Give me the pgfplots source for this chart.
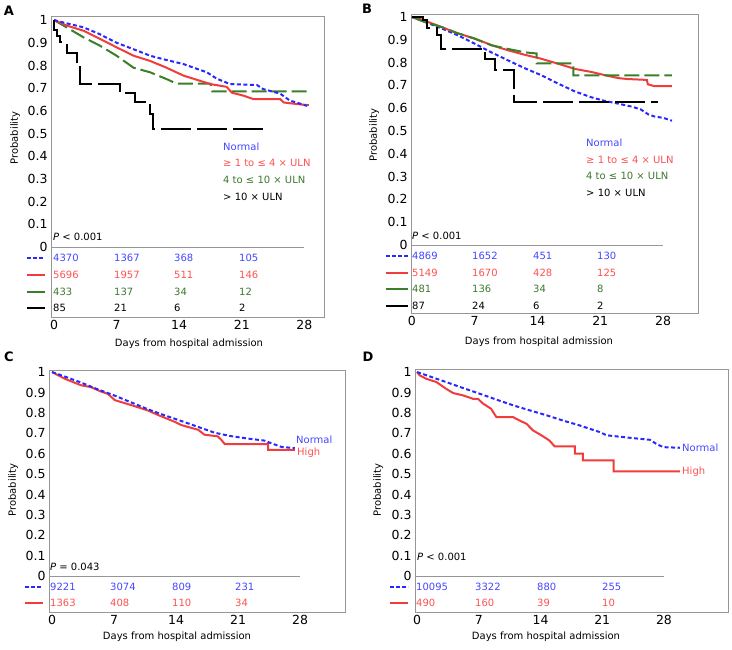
\documentclass[border=0pt]{standalone}
\usepackage{fontspec}
\setmainfont{DejaVu Sans}
\usepackage{pgfplots}
\pgfplotsset{compat=1.18}

\definecolor{kmblue}{RGB}{40,40,255}
\definecolor{kmred}{RGB}{240,60,60}
\definecolor{kmgreen}{RGB}{58,128,40}
\definecolor{tblue}{RGB}{70,70,255}
\definecolor{tred}{RGB}{255,80,80}
\definecolor{tgreen}{RGB}{60,120,45}
\definecolor{boxgray}{RGB}{150,150,150}

\newcommand{\tk}{\fontsize{12.5}{14}\selectfont}
\newcommand{\tx}{\fontsize{10}{12}\selectfont}

\tikzset{
  sblue/.style={kmblue, line width=2pt, dash pattern=on 4pt off 2.5pt},
  sred/.style={kmred, line width=2pt},
  sgreen/.style={kmgreen, line width=2pt, dash pattern=on 15pt off 5pt},
  sblack/.style={black, line width=2pt, dash pattern=on 30pt off 6pt},
}
\pgfplotsset{
  kmpanel/.style={
    scale only axis,
    anchor=north west,
    clip=false,
    axis line style={boxgray, line width=0.8pt},
    xtick={0,7,14,21,28},
    ytick={0,0.1,0.2,0.3,0.4,0.5,0.6,0.7,0.8,0.9,1},
    yticklabels={0,0.1,0.2,0.3,0.4,0.5,0.6,0.7,0.8,0.9,1},
    major tick length=0pt,
    tick label style={font=\tk},
    /pgf/number format/assume math mode=true,
  },
}

\begin{document}
\begin{tikzpicture}
\path[use as bounding box] (0,0) rectangle (732pt,-649pt);

% ---------- A ----------
\begin{axis}[kmpanel, at={(51pt,-16pt)}, width=273pt, height=301pt,
  xmin=-0.34, xmax=30.2, ymin=-0.308, ymax=1.018]
\draw[boxgray, line width=0.8pt] (axis cs:-0.34,0) -- (axis cs:28,0);
\addplot[sgreen] coordinates {(0,1) (1.4,0.968) (3.3,0.924) (5.15,0.887) (7,0.843) (8.9,0.79) (10.75,0.77) (12.6,0.74) (13.7,0.72) (17.5,0.72) (17.7,0.686) (28.5,0.686)};
\addplot[sred] coordinates {(0,1) (1.5,0.975) (3.3,0.953) (5,0.92) (7,0.88) (8.9,0.843) (10.75,0.82) (12.6,0.79) (14.5,0.755) (16.3,0.733) (17.5,0.718) (19.3,0.706) (19.9,0.68) (21.2,0.667) (22.3,0.652) (25.3,0.652) (25.7,0.637) (27.2,0.63) (28.5,0.625)};
\addplot[sblue] coordinates {(0,1) (1.5,0.985) (3.3,0.968) (5,0.94) (7,0.90) (9,0.87) (10.75,0.843) (12.5,0.825) (14.5,0.806) (16,0.785) (17.1,0.77) (18.2,0.742) (19.7,0.718) (22.7,0.714) (23.4,0.696) (25.3,0.676) (26.4,0.645) (27.2,0.636) (28.3,0.622)};
\addplot[sblack] coordinates {(0,1) (0,0.956) (0.3,0.956) (0.3,0.93) (0.67,0.93) (0.67,0.904) (1.4,0.904) (1.4,0.856) (2.6,0.856) (2.6,0.816) (2.9,0.816) (2.9,0.72) (7.4,0.72) (7.4,0.68) (9.1,0.68) (9.1,0.637) (10.75,0.637) (10.75,0.586) (11.1,0.586) (11.1,0.52) (24,0.52)};
\end{axis}

% ---------- B ----------
\begin{axis}[kmpanel, at={(411pt,-14pt)}, width=287pt, height=299pt,
  xmin=-0.1, xmax=31.9, ymin=-0.298, ymax=1.013]
\draw[boxgray, line width=0.8pt] (axis cs:-0.1,0) -- (axis cs:28,0);
\addplot[sblue] coordinates {(0,1) (1,0.985) (2,0.97) (3.3,0.95) (5.1,0.92) (7,0.883) (8.85,0.845) (10.7,0.81) (12.6,0.775) (14.4,0.745) (16.3,0.708) (18.2,0.673) (20,0.648) (21.5,0.632) (23,0.62) (24.5,0.607) (25.5,0.595) (26.4,0.572) (27.1,0.563) (28,0.558) (29,0.545)};
\addplot[sred] coordinates {(0,1) (1,0.99) (3.3,0.956) (5,0.93) (7,0.905) (9,0.875) (10.7,0.854) (12.5,0.835) (14.4,0.817) (16.3,0.795) (18.2,0.772) (20,0.759) (21.5,0.745) (23,0.732) (24,0.728) (26.2,0.724) (26.3,0.705) (27,0.697) (29,0.697)};
\addplot[sgreen] coordinates {(0,1) (1.4,0.978) (3.3,0.956) (5,0.93) (7,0.905) (8.85,0.876) (10.7,0.86) (12.6,0.845) (13.9,0.84) (13.9,0.797) (18,0.797) (18,0.744) (29,0.744)};
\addplot[sblack] coordinates {(0,1) (1.2,1) (1.2,0.985) (1.7,0.985) (1.7,0.95) (2.75,0.95) (2.75,0.92) (3.3,0.92) (3.3,0.858) (8.15,0.858) (8.15,0.814) (9.3,0.814) (9.3,0.768) (11.4,0.768) (11.4,0.629) (27.4,0.629)};
\end{axis}

% ---------- C ----------
\begin{axis}[kmpanel, at={(49pt,-370pt)}, width=296pt, height=242pt,
  xmin=-0.34, xmax=33.07, ymin=-0.176, ymax=1.01]
\draw[boxgray, line width=0.8pt] (axis cs:-0.34,0) -- (axis cs:28,0);
\addplot[sred] coordinates {(0,1) (1.5,0.966) (3.3,0.935) (4.4,0.926) (5.5,0.905) (6.3,0.893) (7.1,0.862) (8.95,0.838) (10.8,0.812) (12,0.789) (13.85,0.756) (14.6,0.74) (16.5,0.717) (17.2,0.693) (18.7,0.685) (19.1,0.668) (19.5,0.647) (24.4,0.647) (24.4,0.619) (27.4,0.619)};
\addplot[sblue] coordinates {(0,1) (1.5,0.977) (3.3,0.948) (5,0.918) (7.1,0.884) (9,0.85) (10.8,0.818) (12.7,0.788) (14.6,0.76) (16.5,0.731) (18.4,0.702) (20.2,0.686) (22.1,0.674) (24,0.664) (24.5,0.655) (25.9,0.633) (27.4,0.627)};
\end{axis}

% ---------- D ----------
\begin{axis}[kmpanel, at={(415pt,-369pt)}, width=313pt, height=243pt,
  xmin=-0.23, xmax=35.26, ymin=-0.176, ymax=1.015]
\draw[boxgray, line width=0.8pt] (axis cs:-0.23,0) -- (axis cs:28,0);
\addplot[sred] coordinates {(0,1) (0.3,0.984) (1.05,0.967) (2.2,0.951) (3.3,0.918) (4.1,0.897) (5.2,0.886) (6.35,0.869) (6.9,0.869) (7.5,0.845) (8.4,0.82) (9,0.779) (10.9,0.779) (11.6,0.763) (12.4,0.747) (13.15,0.714) (14.1,0.69) (15,0.665) (15.6,0.636) (17.9,0.636) (17.9,0.6) (18.8,0.6) (18.8,0.567) (22.3,0.567) (22.3,0.513) (29.8,0.513)};
\addplot[sblue] coordinates {(0,1) (1.5,0.978) (3.3,0.951) (5,0.925) (7.1,0.894) (9,0.865) (10.9,0.837) (12.8,0.812) (14.7,0.788) (16.5,0.763) (18.4,0.739) (20.7,0.706) (21.5,0.69) (24.1,0.678) (26.4,0.668) (27.1,0.649) (27.9,0.632) (29.8,0.629)};
\end{axis}

% ---------- annotations (pixel coordinates) ----------
\begin{scope}[x=1pt, y=-1pt, every node/.style={font=\tx, inner sep=0pt}]
% panel letters
\node[font=\fontsize{13}{13}\selectfont\bfseries] at (9,11) {A};
\node[font=\fontsize{13}{13}\selectfont\bfseries] at (367,9) {B};
\node[font=\fontsize{13}{13}\selectfont\bfseries] at (9,357) {C};
\node[font=\fontsize{13}{13}\selectfont\bfseries] at (368,357) {D};
% axis labels
\node[rotate=90] at (15,138) {Probability};
\node[rotate=90] at (374,135) {Probability};
\node[rotate=90] at (13,490) {Probability};
\node[rotate=90] at (378,490) {Probability};
\node at (189,344) {Days from hospital admission};
\node at (539,342) {Days from hospital admission};
\node at (177,637) {Days from hospital admission};
\node at (546,637) {Days from hospital admission};
% P values
\node[anchor=west] at (53,237) {\textit{P} < 0.001};
\node[anchor=west] at (412,236) {\textit{P} < 0.001};
\node[anchor=west] at (50,567) {\textit{P} = 0.043};
\node[anchor=west] at (417,557) {\textit{P} < 0.001};
% legend A
\node[anchor=west, text=tblue] at (223,147) {Normal};
\node[anchor=west, text=tred] at (223,163) {≥ 1 to ≤ 4 × ULN};
\node[anchor=west, text=tgreen] at (223,180) {4 to ≤ 10 × ULN};
\node[anchor=west, text=black] at (223,197) {> 10 × ULN};
% legend B
\node[anchor=west, text=tblue] at (586,143) {Normal};
\node[anchor=west, text=tred] at (586,160) {≥ 1 to ≤ 4 × ULN};
\node[anchor=west, text=tgreen] at (586,176) {4 to ≤ 10 × ULN};
\node[anchor=west, text=black] at (586,193) {> 10 × ULN};
% legend C, D
\node[anchor=west, text=tblue] at (296,440) {Normal};
\node[anchor=west, text=tred] at (297,453) {High};
\node[anchor=west, text=tblue] at (682,448) {Normal};
\node[anchor=west, text=tred] at (682,472) {High};
% risk table A
\draw[sblue, dash pattern=on 3.5pt off 2.5pt] (27,258) -- (45,258);
\draw[sred] (27,275) -- (45,275);
\draw[kmgreen, line width=2pt] (27,292) -- (45,292);
\draw[black, line width=2pt] (27,308) -- (45,308);
\foreach \a/\b/\c/\d/\y/\col in {4370/1367/368/105/258/tblue, 5696/1957/511/146/275/tred, 433/137/34/12/292/tgreen, 85/21/6/2/308/black}{
  \node[anchor=west, text=\col] at (53,\y) {\a};
  \node[anchor=west, text=\col] at (114,\y) {\b};
  \node[anchor=west, text=\col] at (174,\y) {\c};
  \node[anchor=west, text=\col] at (239,\y) {\d};
}
% risk table B
\draw[sblue, dash pattern=on 3.5pt off 2.5pt] (386,256) -- (408,256);
\draw[sred] (386,273) -- (408,273);
\draw[kmgreen, line width=2pt] (386,289) -- (408,289);
\draw[black, line width=2pt] (386,306) -- (408,306);
\foreach \a/\b/\c/\d/\y/\col in {4869/1652/451/130/256/tblue, 5149/1670/428/125/273/tred, 481/136/34/8/289/tgreen, 87/24/6/2/306/black}{
  \node[anchor=west, text=\col] at (412,\y) {\a};
  \node[anchor=west, text=\col] at (472,\y) {\b};
  \node[anchor=west, text=\col] at (533,\y) {\c};
  \node[anchor=west, text=\col] at (597,\y) {\d};
}
% risk table C
\draw[sblue, dash pattern=on 3.5pt off 2.5pt] (25,587) -- (43,587);
\draw[sred] (25,603) -- (43,603);
\foreach \a/\b/\c/\d/\y/\col in {9221/3074/809/231/587/tblue, 1363/408/110/34/603/tred}{
  \node[anchor=west, text=\col] at (50,\y) {\a};
  \node[anchor=west, text=\col] at (110,\y) {\b};
  \node[anchor=west, text=\col] at (172,\y) {\c};
  \node[anchor=west, text=\col] at (235,\y) {\d};
}
% risk table D
\draw[sblue, dash pattern=on 3.5pt off 2.5pt] (390,587) -- (408,587);
\draw[sred] (390,603) -- (408,603);
\foreach \a/\b/\c/\d/\y/\col in {10095/3322/880/255/587/tblue, 490/160/39/10/603/tred}{
  \node[anchor=west, text=\col] at (416,\y) {\a};
  \node[anchor=west, text=\col] at (475,\y) {\b};
  \node[anchor=west, text=\col] at (537,\y) {\c};
  \node[anchor=west, text=\col] at (602,\y) {\d};
}
\end{scope}
\end{tikzpicture}
\end{document}
